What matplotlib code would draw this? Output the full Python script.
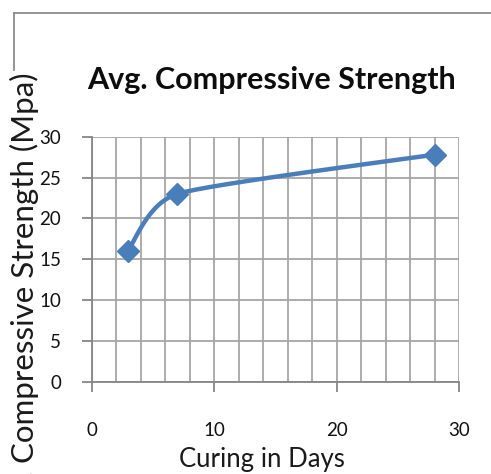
import numpy as np
from matplotlib import pyplot as plt
from matplotlib.lines import Line2D

days = [3, 7, 28]
strength = [16, 23, 27.8]
x_ticks = [0, 10, 20, 30]
y_ticks = [0, 5, 10, 15, 20, 25, 30]

blue = "#4a7ebb"
grid_col = "#a6a6a6"
axis_col = "#868686"

fig = plt.figure(figsize=(4.91, 4.74), dpi=100)
ax = fig.add_axes([91.7 / 491, 1 - 381.7 / 474, (459.3 - 91.7) / 491, (381.7 - 136.7) / 474])
ax.set_xlim(0, 30)
ax.set_ylim(0, 30)

# grid every 2 days / 5 MPa
ax.set_xticks(np.arange(0, 31, 2), minor=True)
ax.set_xticks(x_ticks)
ax.set_yticks(y_ticks)
ax.grid(True, which="both", color=grid_col, linewidth=1.3)
ax.set_axisbelow(True)
for s in ["top", "right"]:
    ax.spines[s].set_visible(False)
for s in ["left", "bottom"]:
    ax.spines[s].set_color(axis_col)
    ax.spines[s].set_linewidth(1.3)
ax.tick_params(axis="x", which="major", length=7, width=1.3, color=axis_col, pad=22,
               labelsize=13.5, labelcolor="#111111")
ax.tick_params(axis="x", which="minor", length=0)
ax.tick_params(axis="y", length=7, width=1.3, color=axis_col, pad=15,
               labelsize=13.5, labelcolor="#111111")
for lab in ax.get_xticklabels() + ax.get_yticklabels():
    lab.set_family("Lato")

# smoothed line (bezier in screen space, arms limited by the shorter neighbour segment)
pts = ax.transData.transform(np.column_stack([days, strength]))
n = len(pts)
arm_out = [None] * n
arm_in = [None] * n
for i in range(1, n - 1):
    d = pts[i + 1] - pts[i - 1]
    d = d / np.hypot(*d)
    L = min(np.hypot(*(pts[i] - pts[i - 1])), np.hypot(*(pts[i + 1] - pts[i]))) / 3
    arm_in[i] = pts[i] - d * L
    arm_out[i] = pts[i] + d * L
curve = []
t = np.linspace(0, 1, 80)[:, None]
for i in range(n - 1):
    p0, p3 = pts[i], pts[i + 1]
    c1 = arm_out[i]
    c2 = arm_in[i + 1]
    if c1 is None and c2 is None:
        c1, c2 = p0 + (p3 - p0) / 3, p3 - (p3 - p0) / 3
    elif c1 is None:
        c1 = (p0 + c2) / 2
    elif c2 is None:
        c2 = (p3 + c1) / 2
    seg = (1 - t) ** 3 * p0 + 3 * (1 - t) ** 2 * t * c1 + 3 * (1 - t) * t ** 2 * c2 + t ** 3 * p3
    curve.append(seg)
curve = ax.transData.inverted().transform(np.vstack(curve))
ax.plot(curve[:, 0], curve[:, 1], color=blue, linewidth=3.2, solid_capstyle="round", clip_on=False)
ax.plot(days, strength, linestyle="none", marker="D", markersize=11, color=blue, clip_on=False)

fig.text(272 / 491, 1 - 80 / 474, "Avg. Compressive Strength", ha="center", va="center",
         fontsize=22, fontweight="bold", family="Lato", color="#0d0d0d")
fig.text(10 / 491, 1 - 72 / 474, "Avg. Compressive Strength (Mpa)", rotation=90, ha="left",
         va="top", fontsize=22.5, family="Lato", color="#1a1a1a")
fig.text(262 / 491, 1 - 460 / 474, "Curing in Days", ha="center", va="center",
         fontsize=18.5, family="Lato", color="#1a1a1a")

# chart border remnant
fig.add_artist(Line2D([14 / 491, 1], [1 - 13 / 474] * 2, color="#8c8c8c", linewidth=1.3))
fig.add_artist(Line2D([14 / 491] * 2, [1 - 13 / 474, 1 - 70 / 474], color="#8c8c8c", linewidth=1.3))

fig.savefig("out.png", dpi=100)
